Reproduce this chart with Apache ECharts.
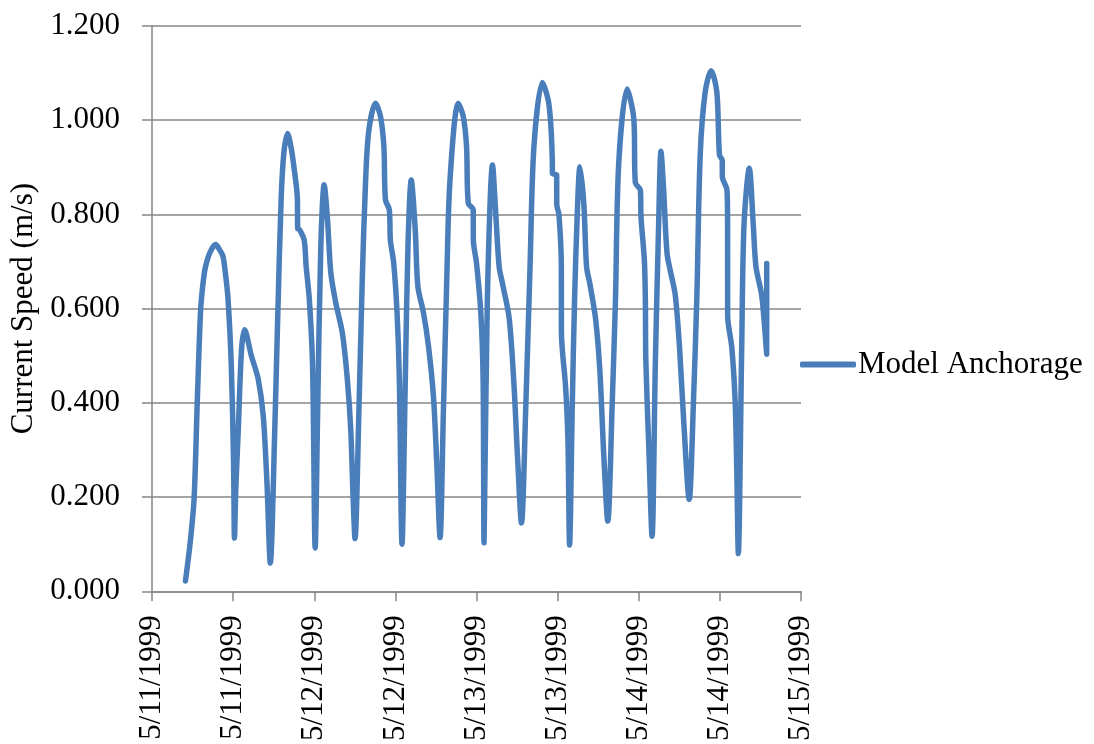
<!DOCTYPE html>
<html>
<head>
<meta charset="utf-8">
<script src="https://cdn.jsdelivr.net/npm/echarts@6/dist/echarts.min.js"></script>
<style>
html,body{margin:0;padding:0;background:#fff;}
#chart{width:1094px;height:744px;}
</style>
</head>
<body>
<div id="chart"></div>
<script>
// Hours since 5/11/1999 00:00
const hours = [
  4.95, 5.7, 6.23, 6.71, 7.2, 7.6, 7.93, 8.6, 9.4, 10.0, 10.5, 10.9, 11.25, 11.73, 12.07, 12.2,
  12.4, 12.75, 13.25, 13.7, 14.7, 15.7, 16.45, 17.0, 17.5,
  18.15, 18.6, 19.1, 19.5, 20.05, 20.6, 21.0, 21.5, 21.55, 21.8, 22.5, 22.8, 23.27, 23.75, 24.14,
  24.5, 24.97, 25.47, 25.96, 26.45, 27.19, 28.16, 28.9, 29.4, 29.74, 30.03,
  30.6, 31.1, 31.6, 32.08, 33.07, 33.8, 34.3, 34.53, 35.1, 35.26, 35.75, 36.25, 36.59, 36.98,
  37.47, 37.86, 38.35, 38.94, 39.33, 40.16, 40.9, 41.63, 42.12, 42.61,
  43.1, 43.6, 44.08, 45.3, 46.04, 46.53, 46.78, 47.52, 47.53, 48.0, 48.64, 48.98, 49.12,
  49.6, 50.37, 50.86, 51.35, 51.85, 52.83, 53.56, 54.06, 54.65,
  55.3, 55.92, 56.5, 57.75, 58.72, 59.22, 59.23, 59.86, 59.87, 60.2, 60.55, 60.56, 61.18, 61.52, 61.77,
  62.17, 62.5, 62.9, 63.3, 63.88, 64.28, 64.77, 65.6, 66.24, 66.83, 67.42,
  68.07, 68.55, 69.04, 70.28, 71.26, 71.5, 72.24, 72.34, 72.83, 72.98, 73.05, 73.5, 73.97,
  74.45, 74.94, 75.29, 75.68, 76.18, 76.66, 77.4, 78.03, 78.62, 79.46,
  80.1, 80.6, 81.09, 81.83, 82.71, 83.55, 83.94, 84.35, 84.36, 85.05, 85.14, 85.15, 85.76, 86.25, 86.5, 86.73,
  87.23, 87.57, 88.35, 88.94, 89.34, 90.18, 90.57, 90.92, 90.93
];
const speeds = [
  0.022, 0.11, 0.197, 0.408, 0.599, 0.66, 0.690, 0.720, 0.736, 0.725, 0.711, 0.670, 0.620, 0.479, 0.268, 0.113,
  0.22, 0.338, 0.514, 0.555, 0.500, 0.451, 0.373, 0.232, 0.060,
  0.338, 0.584, 0.831, 0.93, 0.972, 0.94, 0.90, 0.835, 0.77, 0.768, 0.746, 0.69, 0.620, 0.479, 0.092,
  0.379, 0.732, 0.863, 0.789, 0.676, 0.612, 0.548, 0.449, 0.343, 0.202, 0.112,
  0.379, 0.661, 0.873, 0.979, 1.036, 1.008, 0.944, 0.831, 0.810, 0.746, 0.697, 0.591, 0.449, 0.100,
  0.449, 0.732, 0.873, 0.767, 0.647, 0.591, 0.520, 0.414, 0.273, 0.114,
  0.379, 0.661, 0.873, 1.036, 1.008, 0.944, 0.824, 0.810, 0.746, 0.697, 0.591, 0.449, 0.103,
  0.616, 0.905, 0.799, 0.689, 0.653, 0.580, 0.434, 0.288, 0.145,
  0.397, 0.689, 0.945, 1.080, 1.033, 0.909, 0.887, 0.883, 0.821, 0.799, 0.689, 0.551, 0.434, 0.324, 0.098,
  0.397, 0.616, 0.799, 0.901, 0.821, 0.689, 0.653, 0.580, 0.470, 0.288, 0.149,
  0.397, 0.616, 0.909, 1.066, 1.004, 0.867, 0.852, 0.793, 0.703, 0.616, 0.49, 0.30, 0.117,
  0.481, 0.778, 0.934, 0.852, 0.718, 0.681, 0.629, 0.518, 0.369, 0.195,
  0.406, 0.629, 0.926, 1.060, 1.105, 1.060, 0.926, 0.915, 0.88, 0.852, 0.778, 0.585, 0.518, 0.406, 0.258, 0.080,
  0.518, 0.778, 0.898, 0.778, 0.689, 0.629, 0.570, 0.503, 0.696
];
const yTicks = [0, 0.2, 0.4, 0.6, 0.8, 1.0, 1.2];
const dayLabels = ['5/11/1999', '5/11/1999', '5/12/1999', '5/12/1999', '5/13/1999', '5/13/1999', '5/14/1999', '5/14/1999', '5/15/1999'];
const seriesName = 'Model Anchorage';

const data = hours.map((h, i) => [h, speeds[i]]);
const font = '"Liberation Serif", "Times New Roman", serif';
const gray = '#868686';

const chart = echarts.init(document.getElementById('chart'), null, {renderer: 'canvas'});
chart.setOption({
  animation: false,
  backgroundColor: '#fff',
  grid: {left: 150, right: 293, top: 26, bottom: 152, containLabel: false},
  legend: {
    data: [seriesName],
    left: 795, top: 344,
    icon: 'roundRect', itemWidth: 56, itemHeight: 6, itemGap: 0,
    textStyle: {fontFamily: font, fontSize: 31, color: '#000', padding: [0, 0, 0, -3]}
  },
  xAxis: {
    type: 'value', min: 0, max: 96, interval: 12,
    axisLine: {show: true, lineStyle: {color: gray, width: 1.5}},
    axisTick: {show: true, length: 10, lineStyle: {color: gray, width: 1.5}},
    splitLine: {show: false},
    axisLabel: {
      rotate: 90, margin: 24, fontFamily: font, fontSize: 31, color: '#000',
      formatter: v => dayLabels[Math.round(v / 12)] || ''
    }
  },
  yAxis: {
    type: 'value', min: 0, max: 1.2, interval: 0.2,
    name: 'Current Speed (m/s)', nameLocation: 'middle', nameGap: 113,
    nameTextStyle: {fontFamily: font, fontSize: 31, color: '#000'},
    axisLine: {show: true, lineStyle: {color: gray, width: 1.5}},
    axisTick: {show: true, length: 10, inside: false, lineStyle: {color: gray, width: 1.5}},
    splitLine: {show: true, lineStyle: {color: gray, width: 1.5}},
    axisLabel: {
      margin: 32, fontFamily: font, fontSize: 31, color: '#000',
      formatter: v => yTicks.some(t => Math.abs(t - v) < 1e-9) ? v.toFixed(3) : ''
    }
  },
  series: [{
    name: seriesName,
    type: 'line',
    data: data,
    showSymbol: false,
    symbol: 'none',
    smooth: 0.3,
    lineStyle: {color: '#4a7ebb', width: 5.5, cap: 'round', join: 'round'},
    itemStyle: {color: '#4a7ebb'}
  }]
});
</script>
</body>
</html>
